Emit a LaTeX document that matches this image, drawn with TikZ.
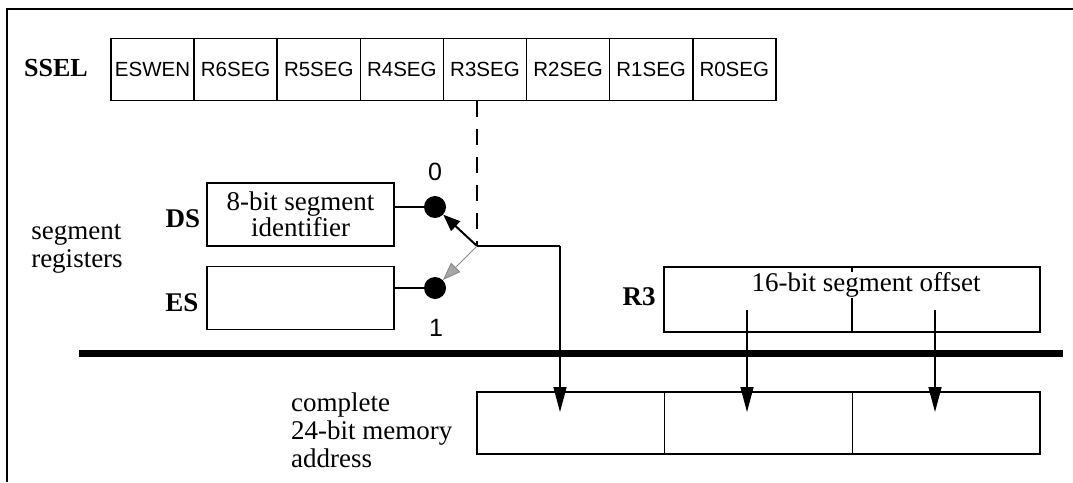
\documentclass[tikz,border=0pt]{standalone}
\usepackage{fontspec}
\setmainfont{Liberation Serif}
\setsansfont{Liberation Sans}
\usetikzlibrary{arrows.meta}

\tikzset{
  frameline/.style={line width=1.8pt},
  box/.style={draw, line width=1.6pt, rectangle, inner sep=0pt},
  regcell/.style={box, minimum width=83.1pt, minimum height=62pt,
    font=\sffamily\fontsize{20.5}{21}\selectfont},
  regbox/.style={box, minimum width=187pt, minimum height=63pt,
    align=center, font=\fontsize{27}{26}\selectfont},
  memcell/.style={box, minimum width=187.7pt, minimum height=62pt},
  serif/.style={font=\fontsize{27}{28}\selectfont, inner sep=0pt},
  boldlabel/.style={font=\bfseries\fontsize{27}{28}\selectfont, inner sep=0pt},
  bitlabel/.style={font=\sffamily\fontsize{25}{25}\selectfont, inner sep=0pt},
  swdot/.style={circle, fill=black, minimum size=22pt, inner sep=0pt},
  wire/.style={line width=1.6pt},
  selline/.style={line width=1.4pt, dash pattern=on 16pt off 12pt},
  swarrow/.style={line width=2pt, -{Triangle[length=17pt, width=13pt]}},
  swgray/.style={line width=1pt, black!45,
    -{Triangle[length=18pt, width=13pt, fill=black!35]}},
  downarrow/.style={line width=1.6pt, -{Triangle[length=25pt, width=13pt]}},
  bus/.style={line width=7pt}
}

\begin{document}
\begin{tikzpicture}[x=1pt, y=-1pt]
\useasboundingbox (0,0) rectangle (1073,482);

% outer frame (top and left edges)
\draw[frameline] (1073,9) -- (7,9) -- (7,482);

% SSEL register with its eight fields
\node[boldlabel, font=\bfseries\fontsize{26}{28}\selectfont] (ssel) at (56,68) {SSEL};
\foreach \name [count=\i from 0] in {ESWEN,R6SEG,R5SEG,R4SEG,R3SEG,R2SEG,R1SEG,R0SEG}
  \node[regcell] (c\i) at ({111+83.1*(\i+0.5)},69.5) {\name};

% segment registers DS and ES
\node[serif, align=left] (seglab) at (77,249) {segment\\registers};
\node[regbox] (ds) at (300.5,214.5) {8-bit segment\\identifier};
\node[regbox] (es) at (300.5,298) {};
\node[boldlabel] (dslab) at (183,219) {DS};
\node[boldlabel] (eslab) at (182,303) {ES};

% selector switch
\node[swdot] (d0) at (435,207) {};
\node[swdot] (d1) at (435,288) {};
\node[bitlabel] (b0) at (435,172) {0};
\node[bitlabel] (b1) at (436,328) {1};
\coordinate (pivot) at (477,246);
\coordinate (bend) at (560,246);

\draw[wire] (d0) -- (d0 -| ds.east);
\draw[wire] (d1) -- (d1 -| es.east);
\draw[selline] (pivot |- c4.south) -- (pivot);
\draw[swarrow] (pivot) -- (d0);
\draw[swgray] (pivot) -- (d1);

% offset register R3
\node[boldlabel] (r3lab) at (639,297) {R3};
\node[box, minimum width=376pt, minimum height=65pt] (r3) at (852,299.5) {};
\draw[wire] (r3.north) -- (r3.south);
\node[serif, fill=white, inner sep=1pt] (r3txt) at (866,285) {16-bit segment offset};

% bus bar
\draw[bus] (79,353) -- (1063,353);

% complete 24-bit memory address
\node[serif, align=left, anchor=west] (memlab) at (291,430)
  {complete\\24-bit memory\\address};
\node[memcell] (m0) at (570.8,423) {};
\node[memcell] (m1) at (758.5,423) {};
\node[memcell] (m2) at (946.2,423) {};

% data paths into the address
\coordinate (t0) at (560,412);
\coordinate (s1) at (747,310);
\coordinate (t1) at (747,412);
\coordinate (s2) at (935,310);
\coordinate (t2) at (935,412);
\draw[wire] (pivot) -- (bend);
\draw[downarrow] (bend) -- (t0);
\draw[downarrow] (s1) -- (t1);
\draw[downarrow] (s2) -- (t2);
\end{tikzpicture}
\end{document}
